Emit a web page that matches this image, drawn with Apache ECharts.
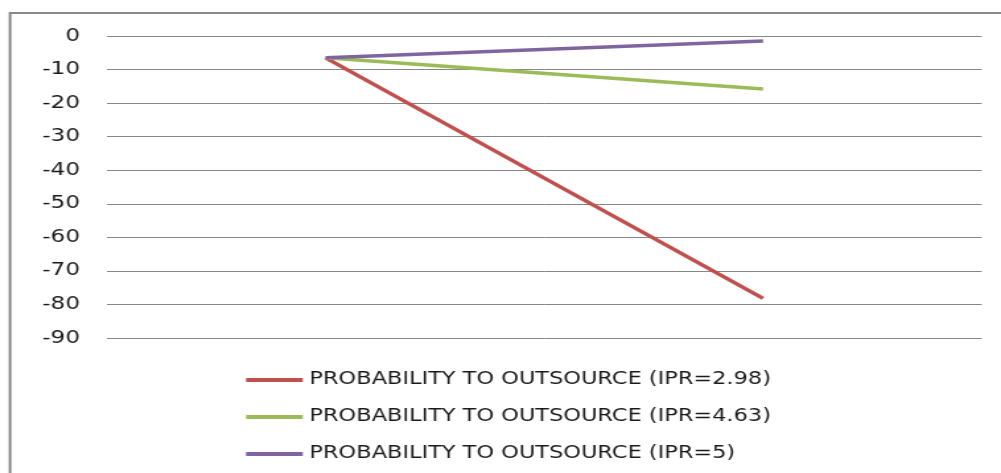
<!DOCTYPE html>
<html>
<head>
<meta charset="utf-8">
<script src="https://cdn.jsdelivr.net/npm/echarts@6/dist/echarts.min.js"></script>
<style>
html,body{margin:0;padding:0;background:#fff;overflow:hidden;width:1001px;height:473px}
#c{width:758px;height:473px;transform:scaleX(1.3206);transform-origin:0 0}
</style>
</head>
<body>
<div id="c"></div>
<script>
const categories = ['A', 'B'];
const seriesNames = [
  'PROBABILITY TO OUTSOURCE (IPR=2.98)',
  'PROBABILITY TO OUTSOURCE (IPR=4.63)',
  'PROBABILITY TO OUTSOURCE (IPR=5)'
];
const ipr298 = [-6.5, -78.2];
const ipr463 = [-6.5, -15.8];
const ipr5 = [-6.5, -1.5];
const yTicks = { min: -90, max: 0, step: 10 };
const colors = ['#C0504D', '#9BBB59', '#8064A2'];

const chart = echarts.init(document.getElementById('c'));
const mk = (name, data, color) => ({
  name, type: 'line', data, symbol: 'none', smooth: false,
  lineStyle: { color, width: 3.5 }, itemStyle: { color }
});
chart.setOption({
  animation: false,
  grid: { left: 81, right: 14.6, top: 36, bottom: 135 },
  xAxis: {
    type: 'category', data: categories, boundaryGap: true,
    axisLine: { show: false }, axisTick: { show: false }, axisLabel: { show: false },
    splitLine: { show: false }
  },
  yAxis: {
    type: 'value', min: yTicks.min, max: yTicks.max, interval: yTicks.step,
    axisLine: { show: false }, axisTick: { show: false },
    axisLabel: { fontFamily: 'DejaVu Sans', fontSize: 17.5, color: '#1a1a1a', margin: 20.4 },
    splitLine: { lineStyle: { color: '#878787', width: 1 } }
  },
  legend: {
    orient: 'vertical', left: 181.3, top: 365,
    icon: 'rect', itemWidth: 43, itemHeight: 4, itemGap: 17,
    textStyle: { fontFamily: 'DejaVu Sans', fontSize: 17, color: '#1a1a1a', lineHeight: 20 },
    data: seriesNames
  },
  graphic: [{
    type: 'rect', shape: { x: 7.6, y: 13, width: 800, height: 470 },
    style: { fill: 'none', stroke: '#888', lineWidth: 2 }, silent: true
  }],
  series: [
    mk(seriesNames[0], ipr298, colors[0]),
    mk(seriesNames[1], ipr463, colors[1]),
    mk(seriesNames[2], ipr5, colors[2])
  ]
});
</script>
</body>
</html>
